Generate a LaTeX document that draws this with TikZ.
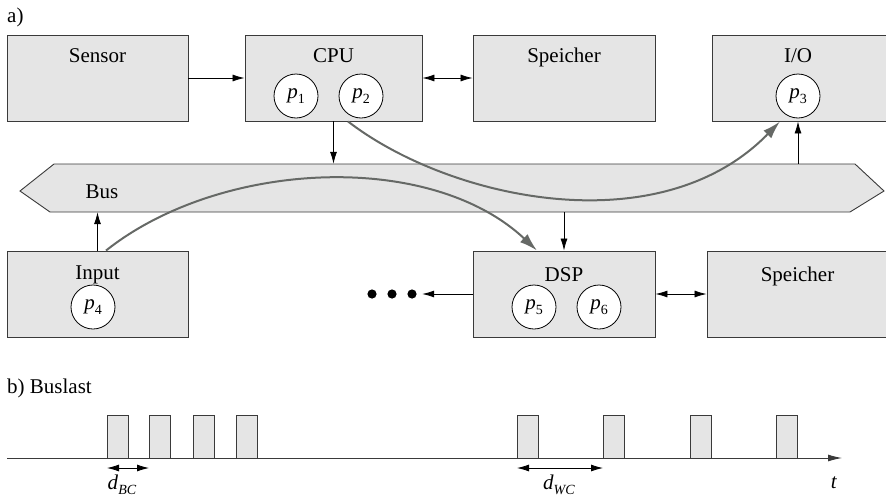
\documentclass[tikz,border=0pt]{standalone}
\usepackage{fontspec}
\setmainfont{Liberation Serif}
\usetikzlibrary{arrows.meta}
\definecolor{boxfill}{HTML}{E5E5E5}
\definecolor{boxline}{HTML}{3A3A3A}
\definecolor{flow}{HTML}{666966}
\newcommand\subtxt[1]{\raisebox{-0.25em}{\fontsize{14}{14}\selectfont #1}}
\newcommand\proclbl[1]{\textit{p}\subtxt{#1}}

\begin{document}
\begin{tikzpicture}[x=1pt,y=-1pt,
  font=\fontsize{21}{25}\selectfont,
  box/.style={draw=boxline, fill=boxfill, line width=0.9pt, inner sep=0pt, minimum height=86pt},
  hidden/.style={inner sep=0pt},
  proc/.style={circle, draw=black, fill=white, line width=0.8pt, minimum size=44pt, inner sep=0pt},
  lbl/.style={anchor=base, inner sep=0pt},
  arr/.style={-{Latex[length=12pt,width=7pt]}, line width=0.8pt},
  biarr/.style={{Latex[length=12pt,width=7pt]}-{Latex[length=12pt,width=7pt]}, line width=0.8pt},
  flowarr/.style={-{Latex[length=18pt,width=11pt]}, draw=flow, line width=2pt},
  pulse/.style={draw=boxline, fill=boxfill, line width=0.9pt},
]
\useasboundingbox (0,0) rectangle (886,498);
\clip (0,0) rectangle (886,498);

% ---- a) system structure ----
\node[lbl, anchor=base west] (parta) at (7,22) {a)};

% component boxes
\node[box, minimum width=181pt] (sensor) at (97.5,78) {};
\node[box, minimum width=177pt] (cpu)    at (333.5,78) {};
\node[box, minimum width=182pt] (mem1)   at (564,78) {};
\node[box, minimum width=180pt] (io)     at (802,78) {};
\node[box, minimum width=181pt] (input)  at (97.5,294) {};
\node[box, minimum width=182pt] (dsp)    at (564,294) {};
\node[box, minimum width=185pt] (mem2)   at (799.5,294) {};

% box titles
\node[lbl] (sensorlbl) at (97.5,62)  {Sensor};
\node[lbl] (cpulbl)    at (333.5,62) {CPU};
\node[lbl] (mem1lbl)   at (564,62)   {Speicher};
\node[lbl] (iolbl)     at (798,62)   {I/O};
\node[lbl] (inputlbl)  at (97.5,279) {Input};
\node[lbl] (dsplbl)    at (564,281)  {DSP};
\node[lbl] (mem2lbl)   at (797.5,281){Speicher};

% processes
\node[proc] (p1) at (296,96)  {\proclbl{1}};
\node[proc] (p2) at (361,96)  {\proclbl{2}};
\node[proc] (p3) at (798,96)  {\proclbl{3}};
\node[proc] (p4) at (93,307)  {\proclbl{4}};
\node[proc] (p5) at (534,307) {\proclbl{5}};
\node[proc] (p6) at (599,307) {\proclbl{6}};

% bus
\path[box] (54,164) -- (855,164) -- (884,191) -- (850,212) -- (50,212) -- (20,191) -- cycle;
\node[hidden, minimum width=864pt, minimum height=48pt] (bus) at (452,188) {};
\node[lbl] (buslbl) at (102,198) {Bus};

% further components
\node[hidden, minimum width=50pt, minimum height=10pt] (dots) at (392,294) {};
\foreach \x in {372,392,412} \fill (\x,294) circle[radius=4.6pt];

% connections
\draw[arr]   (sensor) -- (cpu);
\draw[biarr] (cpu) -- (mem1);
\draw[arr]   (cpu.south) -- (cpu.south |- bus.north);
\draw[arr]   (bus.north -| p3) -- (p3 |- io.south);
\draw[arr]   (input.north) -- (input.north |- bus.south);
\draw[arr]   (bus.south -| dsp) -- (dsp.north);
\draw[arr]   (dsp.west) -- ([xshift=5pt]dots.east);
\draw[biarr] (dsp.east) -- (mem2.west);

% communication between processes
\draw[flowarr] ([xshift=14.5pt]cpu.south) .. controls (450,200) and (660,245) .. ([xshift=-22pt]io.south);
\draw[flowarr] ([xshift=8.5pt]input.north) .. controls (220,160) and (430,150) .. ([xshift=-27pt]dsp.north);

% ---- b) bus load ----
\node[lbl, anchor=base west] (partb) at (7,393) {b) Buslast};
\coordinate (t0) at (7,458);
\coordinate (t1) at (842,458);
\foreach \x in {107,149,193,236,517,603,690,776}
  \draw[pulse] (\x,415) rectangle ++(21.5,43);
\draw[draw=boxline, line width=0.9pt, -{Latex[length=14pt,width=7pt]}] (t0) -- (t1);
\node[lbl] (tlbl) at (834,488) {\textit{t}};

\coordinate (bc0) at (107,468);
\coordinate (bc1) at (149,468);
\draw[biarr] (bc0) -- (bc1);
\node[lbl] (bclbl) at (122,489) {\textit{d}\subtxt{\textit{BC}}};

\coordinate (wc0) at (517,468);
\coordinate (wc1) at (603,468);
\draw[biarr] (wc0) -- (wc1);
\node[lbl] (wclbl) at (559,489) {\textit{d}\subtxt{\textit{WC}}};
\end{tikzpicture}
\end{document}
